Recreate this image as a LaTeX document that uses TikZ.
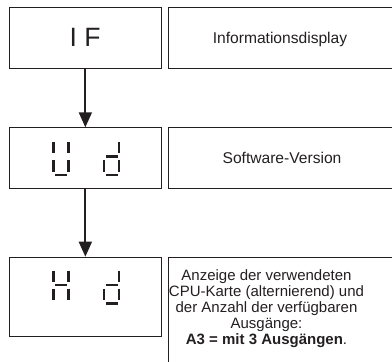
\documentclass[tikz,border=0pt]{standalone}
\usepackage{fontspec}
\setmainfont{Liberation Sans}
\usetikzlibrary{arrows.meta}
\definecolor{ink}{HTML}{231F20}
\begin{document}
\begin{tikzpicture}[x=1pt,y=-1pt,
  box/.style={draw=ink, line width=1pt, inner sep=0pt, anchor=north west},
  lbl/.style={text=ink, inner sep=0pt, font=\fontsize{15.6}{18}\selectfont},
  seg/.style={draw=ink, line width=2.6pt},
  flow/.style={draw=ink, line width=1.8pt, -{Triangle[width=13pt,length=15pt]}}]
\useasboundingbox (0,0) rectangle (392,362);
\clip (0,0) rectangle (392,362);
% left display boxes
\node[box, minimum width=151.7pt, minimum height=60.4pt] (d1) at (9,7.3) {};
\node[box, minimum width=151.7pt, minimum height=61pt] (d2) at (9,127.3) {};
\node[box, minimum width=151.7pt, minimum height=79.3pt] (d3) at (9,256.7) {};
% right description boxes (run off the right edge)
\node[box, minimum width=231.7pt, minimum height=60.4pt] (t1) at (168.3,7.3) {};
\node[box, minimum width=231.7pt, minimum height=61pt] (t2) at (168.3,127.3) {};
\node[box, minimum width=231.7pt, minimum height=115pt] (t3) at (168.3,256.7) {};
% arrows
\draw[flow] (d1.south) -- (d2.north);
\draw[flow] (d2.south) -- (d3.north);
% display 1 text
\node[text=ink, inner sep=0pt, font=\fontsize{26.5}{30}\selectfont] (if) at (85,37.8) {I F};
% display 2: U d
\foreach \xl/\yo in {53.5/142}{
  \draw[seg] (\xl,\yo) -- (\xl,\yo+11);
  \draw[seg] (\xl,\yo+18) -- (\xl,\yo+29.5);
  \draw[seg] (\xl+15,\yo) -- (\xl+15,\yo+11);
  \draw[seg] (\xl+15,\yo+18) -- (\xl+15,\yo+29.5);
  \draw[seg] (\xl+1.5,\yo+33) -- (\xl+13.5,\yo+33);
}
% d digits
\foreach \xl/\yo in {104/142, 104/270.5}{
  \draw[seg] (\xl+15,\yo) -- (\xl+15,\yo+11);
  \draw[seg] (\xl+15,\yo+18) -- (\xl+15,\yo+29.5);
  \draw[seg] (\xl,\yo+18) -- (\xl,\yo+29.5);
  \draw[seg] (\xl+1.5,\yo+14.5) -- (\xl+13.5,\yo+14.5);
  \draw[seg] (\xl+1.5,\yo+33) -- (\xl+13.5,\yo+33);
}
% display 3: H
\foreach \xl/\yo in {53.5/270.5}{
  \draw[seg] (\xl,\yo) -- (\xl,\yo+11);
  \draw[seg] (\xl,\yo+18) -- (\xl,\yo+29.5);
  \draw[seg] (\xl+15,\yo) -- (\xl+15,\yo+11);
  \draw[seg] (\xl+15,\yo+18) -- (\xl+15,\yo+29.5);
  \draw[seg] (\xl+1.5,\yo+14.5) -- (\xl+13.5,\yo+14.5);
}
% labels
\node[lbl, anchor=base] (l1) at (280,43) {Informationsdisplay};
\node[lbl, anchor=base] (l2) at (282,163.5) {Software-Version};
\node[text=ink, inner sep=0pt, align=center, anchor=north,
      font=\fontsize{15}{16}\selectfont] (l3) at (266.5,269.2)
  {Anzeige der verwendeten\\CPU-Karte (alternierend) und\\der Anzahl der verfügbaren\\Ausgänge:\\\textbf{A3 = mit 3 Ausgängen}.};
\end{tikzpicture}
\end{document}
